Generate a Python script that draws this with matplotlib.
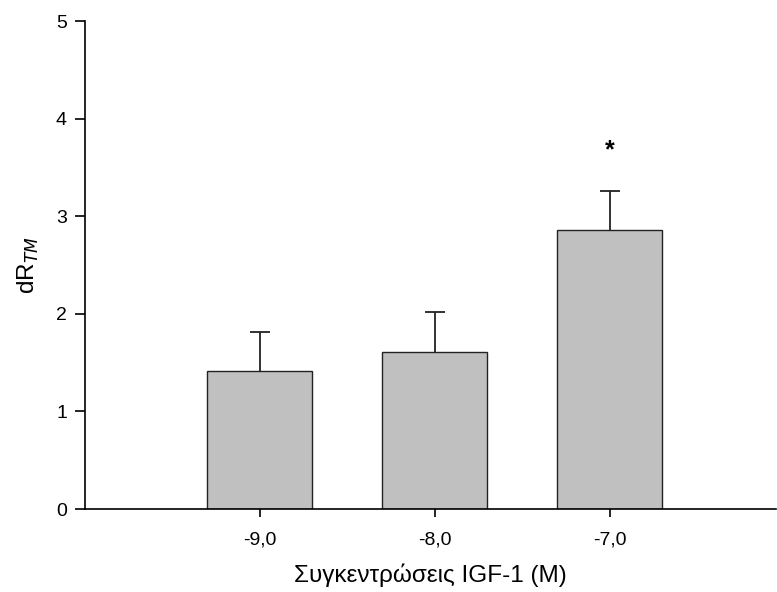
import matplotlib.pyplot as plt

# Δεδομένα
concentrations = ['-9,0', '-8,0', '-7,0']
dr_tm = [1.41, 1.61, 2.86]
sem = [0.40, 0.41, 0.40]
significant = [False, False, True]

plt.rcParams['font.family'] = ['Liberation Sans', 'DejaVu Sans']

fig = plt.figure(figsize=(7.77, 5.92), dpi=100)
ax = fig.add_axes([0.1094, 0.1402, 0.8893, 0.8243])

pos = [1, 2, 3]
ax.bar(pos, dr_tm, width=0.6, color='#c0c0c0', edgecolor='#222222', linewidth=1.0, zorder=2)
eb = ax.errorbar(pos, dr_tm, yerr=[[0, 0, 0], sem], fmt='none', ecolor='#222222',
                 elinewidth=1.3, capsize=7.5, capthick=1.3, zorder=1)
# μόνο το πάνω καπάκι
eb[1][0].set_visible(False)

# Αστερίσκος σημαντικότητας
for p, v, e, s in zip(pos, dr_tm, sem, significant):
    if s:
        ax.text(p, v + e + 0.42, '*', ha='center', va='center', fontsize=18, fontweight='bold')

ax.set_xlim(0.0, 3.95)
ax.set_ylim(0, 5)
ax.set_xticks(pos)
ax.set_xticklabels(concentrations)
ax.set_yticks(range(6))

for side in ['top', 'right']:
    ax.spines[side].set_visible(False)
for side in ['left', 'bottom']:
    ax.spines[side].set_linewidth(1.2)

ax.tick_params(axis='both', direction='out', width=1.2, labelsize=14)
ax.tick_params(axis='x', length=6, pad=10)
ax.tick_params(axis='y', length=7, pad=6)

ax.set_xlabel('Συγκεντρώσεις IGF-1 (M)', fontsize=17.5, labelpad=11)
ax.set_ylabel(r'dR$_{\mathit{TM}}$', fontsize=17.5, labelpad=11)

fig.savefig('out.png', dpi=100)
